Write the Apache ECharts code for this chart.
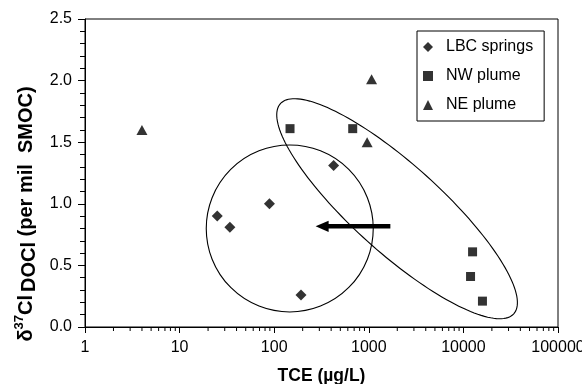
<!DOCTYPE html>
<html>
<head>
<meta charset="utf-8">
<script src="https://cdn.jsdelivr.net/npm/echarts@6/dist/echarts.min.js"></script>
<style>html,body{margin:0;padding:0;background:#fff;}#c{width:582px;height:384px;}</style>
</head>
<body>
<div id="c"></div>
<script>
// ---- data ----
const seriesNames = ['LBC springs', 'NW plume', 'NE plume'];
const lbcTCE   = [25, 34, 89, 192, 425];
const lbcDelta = [0.90, 0.81, 1.00, 0.26, 1.31];
const nwTCE    = [147, 676, 12500, 11900, 15900];
const nwDelta  = [1.61, 1.61, 0.61, 0.41, 0.21];
const neTCE    = [4, 1070, 960];
const neDelta  = [1.60, 2.01, 1.50];
const xTickLabels = ['1', '10', '100', '1000', '10000', '100000'];
const yTickLabels = ['0.0', '0.5', '1.0', '1.5', '2.0', '2.5'];
const xMinorTicks = [];
[1, 10, 100, 1000, 10000].forEach(function (d) { [2,3,4,5,6,7,8,9].forEach(function (k) { xMinorTicks.push(k * d); }); });
// annotation anchors (data coords)
const circleCenter = [146, 0.80];
const ellipseCenter = [1990, 0.96];
const arrowFrom = [1690, 0.817];
const arrowTo = [274, 0.817];

function pairs(xs, ys) { return xs.map(function (x, i) { return [x, ys[i]]; }); }

const FONT = 'Liberation Sans, Arial, sans-serif';
const chart = echarts.init(document.getElementById('c'), null, { renderer: 'canvas' });

const option = {
  backgroundColor: '#fff',
  animation: false,
  textStyle: { fontFamily: FONT, color: '#000' },
  grid: { left: 85, right: 24, top: 19, bottom: 57, containLabel: false, outerBoundsMode: 'none', show: true, borderColor: '#000', borderWidth: 1, backgroundColor: 'transparent' },
  legend: {
    data: seriesNames,
    orient: 'vertical',
    left: 417, top: 31,
    itemWidth: 10, itemHeight: 10, itemGap: 13,
    padding: [8, 11, 8, 6],
    borderColor: '#000', borderWidth: 1, borderRadius: 0,
    backgroundColor: '#fff',
    textStyle: { fontFamily: FONT, fontSize: 16, color: '#000', lineHeight: 16, padding: [0, 0, 0, 8] },
    itemStyle: { color: '#000' }
  },
  xAxis: {
    type: 'log', logBase: 10, min: 1, max: 100000,
    axisLine: { show: true, lineStyle: { color: '#000', width: 1 } },
    axisTick: { show: true, inside: false, length: 6, lineStyle: { color: '#000' } },
    splitLine: { show: false },
    axisLabel: {
      fontFamily: FONT, fontSize: 16, color: '#000', margin: 13,
      formatter: function (v) { const i = Math.round(Math.log10(v)); return xTickLabels[i] !== undefined ? xTickLabels[i] : ''; }
    },
    name: 'TCE (\u00b5g/L)', nameLocation: 'middle', nameGap: 40,
    nameTextStyle: { fontFamily: FONT, fontSize: 17.5, fontWeight: 'bold', color: '#000' }
  },
  yAxis: {
    type: 'value', min: 0, max: 2.5, interval: 0.5,
    axisLine: { show: true, lineStyle: { color: '#000', width: 1 } },
    axisTick: { show: true, inside: false, length: 7, lineStyle: { color: '#000' } },
    minorTick: { show: true, splitNumber: 5, length: 5, lineStyle: { color: '#000' } },
    splitLine: { show: false },
    axisLabel: {
      fontFamily: FONT, fontSize: 16, color: '#000', margin: 13,
      formatter: function (v) { const i = Math.round(v / 0.5); return yTickLabels[i]; }
    }
  },
  series: [
    { name: seriesNames[0], type: 'scatter', symbol: 'diamond', symbolSize: 11, itemStyle: { color: '#000' }, data: pairs(lbcTCE, lbcDelta), z: 5 },
    { name: seriesNames[1], type: 'scatter', symbol: 'rect', symbolSize: 9, itemStyle: { color: '#000' }, data: pairs(nwTCE, nwDelta), z: 5 },
    { name: seriesNames[2], type: 'scatter', symbol: 'triangle', symbolSize: [11, 10], itemStyle: { color: '#000' }, data: pairs(neTCE, neDelta), z: 5 },
    {
      name: 'minor', type: 'custom', clip: false, silent: true, z: 3,
      data: xMinorTicks.map(function (v) { return [v, 0]; }),
      encode: { x: 0, y: 1 },
      renderItem: function (params, api) {
        const p = api.coord([api.value(0), 0]);
        return { type: 'line', shape: { x1: p[0], y1: p[1], x2: p[0], y2: p[1] + 4 }, style: { stroke: '#000', lineWidth: 1 } };
      }
    }
  ]
};
chart.setOption(option);

// ---- annotations: circle, ellipse, arrow (anchored to data coords) ----
const cc = chart.convertToPixel({ gridIndex: 0 }, circleCenter);
const ec = chart.convertToPixel({ gridIndex: 0 }, ellipseCenter);
const af = chart.convertToPixel({ gridIndex: 0 }, arrowFrom);
const at = chart.convertToPixel({ gridIndex: 0 }, arrowTo);

const ellA = 157, ellB = 44, ellAng = 42 * Math.PI / 180;
const ellPts = [];
for (let i = 0; i < 160; i++) {
  const t = i / 160 * Math.PI * 2;
  const u = ellA * Math.cos(t), v = ellB * Math.sin(t);
  ellPts.push([ec[0] + u * Math.cos(ellAng) - v * Math.sin(ellAng), ec[1] + u * Math.sin(ellAng) + v * Math.cos(ellAng)]);
}
const headLen = 13, headHalf = 5.7;
chart.setOption({
  graphic: [
    { type: 'circle', shape: { cx: cc[0], cy: cc[1], r: 83.5 }, style: { fill: 'none', stroke: '#000', lineWidth: 1.1 }, z: 4, silent: true },
    { type: 'polygon', shape: { points: ellPts }, style: { fill: 'none', stroke: '#000', lineWidth: 1.1 }, z: 4, silent: true },
    { type: 'line', shape: { x1: af[0], y1: af[1], x2: at[0] + headLen - 1, y2: at[1] }, style: { stroke: '#000', lineWidth: 4.5 }, z: 6, silent: true },
    { type: 'polygon', shape: { points: [[at[0], at[1]], [at[0] + headLen, at[1] - headHalf], [at[0] + headLen, at[1] + headHalf]] }, style: { fill: '#000' }, z: 6, silent: true },
    {
      type: 'text', x: 26, y: 214, rotation: Math.PI / 2, z: 10, silent: true,
      style: {
        text: '{m|\u03b4}{sup|37}{m|Cl}{sub|DOCl}{m| (per mil  SMOC)}',
        align: 'center', verticalAlign: 'middle',
        fontFamily: FONT, fontWeight: 'bold', fill: '#000',
        rich: {
          m: { fontSize: 20, fontWeight: 'bold', fontFamily: FONT, lineHeight: 26, fill: '#000' },
          sup: { fontSize: 13, fontWeight: 'bold', fontFamily: FONT, verticalAlign: 'top', lineHeight: 26, fill: '#000' },
          sub: { fontSize: 20, fontWeight: 'bold', fontFamily: FONT, verticalAlign: 'bottom', lineHeight: 26, padding: [8, 0, 0, 3], fill: '#000' }
        }
      }
    }
  ]
});
</script>
</body>
</html>
